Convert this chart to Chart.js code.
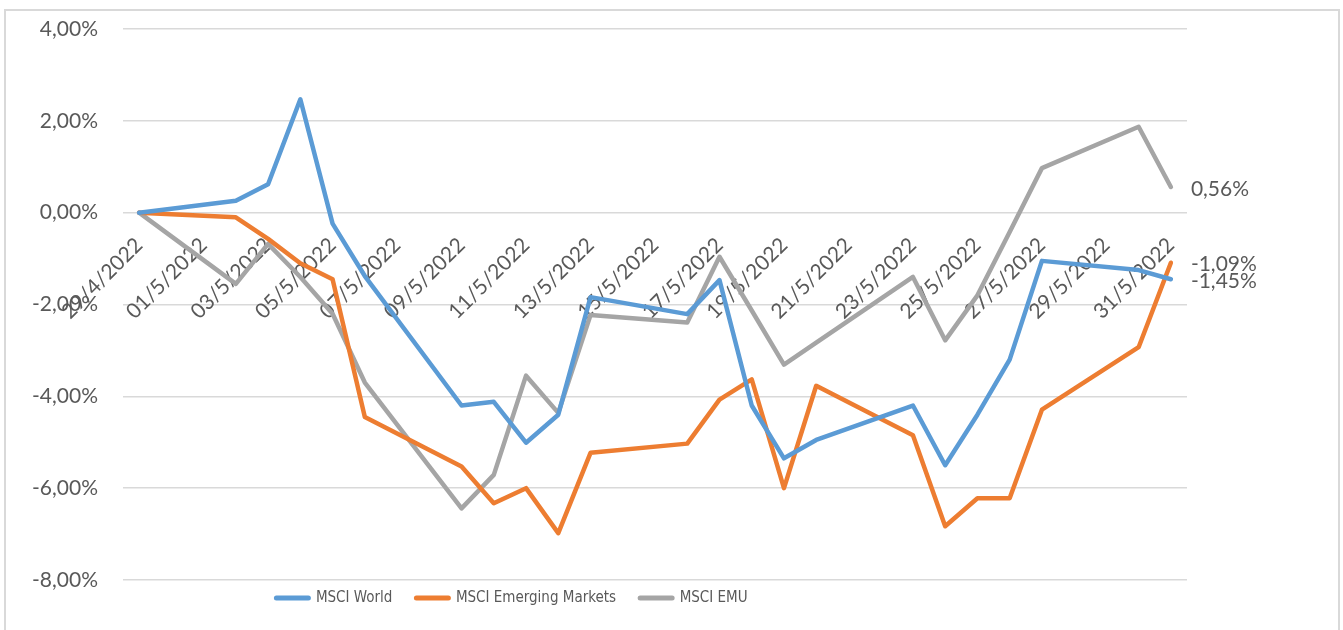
<!DOCTYPE html>
<html><head><meta charset="utf-8">
<script src="https://cdn.jsdelivr.net/npm/chart.js@4.4.1/dist/chart.umd.min.js"></script>
<style>
html,body{margin:0;padding:0;background:#fff;}
#wrap{position:relative;width:1343px;height:630px;overflow:hidden;background:#fff;}
#frame{position:absolute;left:4px;top:9px;width:1336px;height:700px;border:2px solid #D9D9D9;box-sizing:border-box;}
canvas{position:absolute;left:0;top:0;}
</style></head><body>
<div id="wrap"><div id="frame"></div><canvas id="c" width="1343" height="630"></canvas></div>
<script>
const categories = [
  "29/4/2022","30/4/2022","01/5/2022","02/5/2022","03/5/2022","04/5/2022","05/5/2022","06/5/2022",
  "07/5/2022","08/5/2022","09/5/2022","10/5/2022","11/5/2022","12/5/2022","13/5/2022","14/5/2022",
  "15/5/2022","16/5/2022","17/5/2022","18/5/2022","19/5/2022","20/5/2022","21/5/2022","22/5/2022",
  "23/5/2022","24/5/2022","25/5/2022","26/5/2022","27/5/2022","28/5/2022","29/5/2022","30/5/2022",
  "31/5/2022"
];
const seriesNames = ["MSCI World", "MSCI Emerging Markets", "MSCI EMU"];
const msciWorld = [0, null, null, 0.26, 0.62, 2.47, -0.24, -1.38, null, null, -4.2, -4.12, -5.01, -4.4, -1.84, null, null, -2.21, -1.47, -4.2, -5.35, -4.95, null, null, -4.2, -5.5, -4.4, -3.2, -1.05, null, null, -1.25, -1.45];
const msciEM = [0, null, null, -0.1, -0.57, -1.1, -1.45, -4.45, null, null, -5.53, -6.33, -6.0, -6.98, -5.23, null, null, -5.03, -4.07, -3.63, -6.0, -3.77, null, null, -4.85, -6.83, -6.22, -6.22, -4.29, null, null, -2.93, -1.09];
const msciEMU = [0, null, null, -1.55, -0.68, -1.4, -2.2, -3.7, null, null, -6.44, -5.71, -3.55, -4.36, -2.23, null, null, -2.39, -0.96, -2.13, -3.31, -2.83, null, null, -1.4, -2.78, -1.8, -0.42, 0.97, null, null, 1.87, 0.56];
const yMin = -8, yMax = 4, yStep = 2;

const TXT = '#595959';
const fmtPct = v => (Math.abs(v) < 1e-9 ? 0 : v).toFixed(2).replace('.', ',') + '%';

const endLabels = {
  id: 'endLabels',
  afterDatasetsDraw(chart) {
    const ctx = chart.ctx;
    ctx.save();
    ctx.font = '21px Lato';
    ctx.fillStyle = TXT;
    ctx.textAlign = 'left';
    ctx.textBaseline = 'middle';
    chart.data.datasets.forEach((ds, i) => {
      const meta = chart.getDatasetMeta(i);
      const idx = ds.data.length - 1;
      const pt = meta.data[idx];
      ctx.fillText(fmtPct(ds.data[idx]), pt.x + 20, pt.y + 2);
    });
    ctx.restore();
  }
};

const legendPlace = {
  id: 'legendPlace',
  afterLayout(chart) {
    const lg = chart.legend;
    if (!lg) return;
    const dx = 512 - (lg.left + lg.right) / 2;
    const pad = lg.options.labels.padding;
    const fs = lg.options.labels.font.size;
    const dy = 598 - (lg.top + pad + fs / 2);
    lg.left += dx; lg.right += dx; lg.top += dy; lg.bottom += dy;
  }
};

const common = { pointRadius: 0, pointHoverRadius: 0, borderWidth: 4.5, tension: 0, spanGaps: true,
  borderJoinStyle: 'round', borderCapStyle: 'round', fill: false };

new Chart(document.getElementById('c'), {
  type: 'line',
  data: {
    labels: categories,
    datasets: [
      Object.assign({ label: seriesNames[0], data: msciWorld, borderColor: '#5B9BD5', backgroundColor: '#5B9BD5' }, common),
      Object.assign({ label: seriesNames[1], data: msciEM, borderColor: '#ED7D31', backgroundColor: '#ED7D31' }, common),
      Object.assign({ label: seriesNames[2], data: msciEMU, borderColor: '#A5A5A5', backgroundColor: '#A5A5A5' }, common)
    ]
  },
  options: {
    responsive: false,
    animation: false,
    devicePixelRatio: 1,
    layout: { padding: { top: 29, left: 0, right: 156, bottom: 1 } },
    plugins: {
      legend: {
        position: 'bottom',
        labels: {
          usePointStyle: true, pointStyle: 'line', pointStyleWidth: 32,
          padding: 24, color: TXT,
          font: { family: "'DejaVu Sans Condensed', 'Liberation Sans Narrow', 'Liberation Sans', sans-serif", size: 15 },
          generateLabels(chart) {
            const items = Chart.defaults.plugins.legend.labels.generateLabels(chart);
            items.forEach(it => { it.lineWidth = 5; it.lineCap = 'round'; });
            return items;
          }
        }
      },
      tooltip: { enabled: false }
    },
    scales: {
      x: {
        type: 'category',
        offset: true,
        position: { y: 0 },
        grid: { display: false },
        border: { display: false },
        ticks: {
          autoSkip: false, maxRotation: 45, minRotation: 45, padding: 12,
          color: TXT, font: { family: 'Lato', size: 21 },
          callback: (v, i) => (i % 2 === 0 ? categories[i] : '')
        }
      },
      y: {
        min: yMin, max: yMax,
        afterFit(scale) { scale.width = 123; },
        grid: { color: '#D9D9D9', lineWidth: 1.5, drawTicks: true, tickLength: 22, tickColor: 'rgba(0,0,0,0)' },
        border: { display: false },
        ticks: {
          stepSize: yStep, padding: 3, color: TXT,
          font: { family: 'Lato', size: 21 },
          callback: v => fmtPct(v)
        }
      }
    }
  },
  plugins: [endLabels, legendPlace]
});
</script>
</body></html>
